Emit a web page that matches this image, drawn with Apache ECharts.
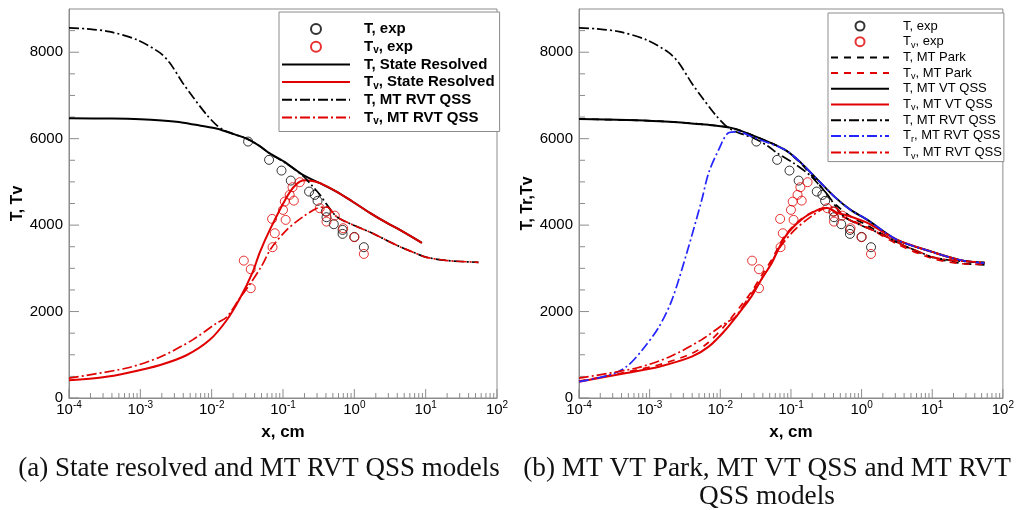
<!DOCTYPE html>
<html>
<head>
<meta charset="utf-8">
<script src="https://cdn.jsdelivr.net/npm/echarts@6/dist/echarts.min.js"></script>
<style>
  html, body { margin: 0; padding: 0; background: #fff; }
  #chart { width: 1017px; height: 510px; }
</style>
</head>
<body>
<div id="chart"></div>
<script>
// ---- axis ticks ----
const xDecades = [1e-4, 1e-3, 1e-2, 1e-1, 1, 10, 100];
const yMajor = [0, 2000, 4000, 6000, 8000];
const yMinor = [500, 1000, 1500, 2500, 3000, 3500, 4500, 5000, 5500, 6500, 7000, 7500, 8500];
const xMinor = [];
for (let d = -4; d < 2; d++) for (let k = 2; k <= 9; k++) xMinor.push(k * Math.pow(10, d));

// ---- experiment (x in cm, temperature in K) ----
const T_exp = [[0.0324,5933],[0.0638,5510],[0.0953,5262],[0.1286,5030],[0.232,4776],[0.279,4699],[0.305,4561],
  [0.398,4313],[0.407,4183],[0.515,4021],[0.684,3889],[0.684,3797],[1.0,3727],[1.36,3489]];
const Tv_exp = [[0.172,4993],[0.136,4877],[0.124,4700],[0.142,4567],[0.106,4544],[0.100,4352],[0.0703,4144],
  [0.109,4121],[0.0767,3812],[0.0713,3489],[0.0282,3178],[0.0353,2979],[0.0353,2540],[0.328,4391],[0.407,4313],
  [0.532,4220],[0.407,4081],[0.697,3928],[1.0,3720],[1.36,3333]];

// ---- state resolved model ----
const T_SR = [[1e-4,6470],[4e-4,6465],[1e-3,6450],[2e-3,6420],[4e-3,6370],[7e-3,6300],[0.012,6230],[0.02,6110],
  [0.031,6000],[0.047,5830],[0.065,5660],[0.11,5440],[0.19,5160],[0.33,4970],[0.57,4770],[0.95,4540],
  [1.65,4285],[2.86,4050],[4.35,3890],[8.85,3590]];
const Tv_SR = [[1e-4,410],[3e-4,480],[6.5e-4,580],[1.9e-3,765],[4.5e-3,995],[9.4e-3,1345],[0.0163,1805],
  [0.0248,2300],[0.0377,2920],[0.0473,3370],[0.0653,3890],[0.113,4650],[0.15,4930],[0.2,5040],[0.26,5020],
  [0.33,4970],[0.57,4770],[0.95,4540],[1.65,4285],[2.86,4050],[4.35,3890],[8.85,3590]];

// ---- MT RVT QSS model ----
const T_RVT = [[1e-4,8565],[1.8e-4,8540],[3.7e-4,8475],[8.9e-4,8290],[1.87e-3,7990],[2.58e-3,7755],[3.93e-3,7290],
  [5.43e-3,6970],[8.54e-3,6550],[0.0118,6310],[0.015,6190],[0.02,6110],[0.031,6000],[0.047,5830],[0.065,5660],
  [0.11,5430],[0.19,5140],[0.25,4930],[0.33,4700],[0.41,4480],[0.57,4190],[1.0,3990],[1.65,3840],[2.9,3640],
  [4.35,3500],[7,3360],[10,3260],[20,3180],[55,3140]];
const Tv_RVT = [[1e-4,460],[6.5e-4,695],[1.9e-3,950],[5.4e-3,1345],[0.0118,1735],[0.0163,1875],[0.0248,2310],
  [0.034,2620],[0.05,3050],[0.068,3460],[0.113,3890],[0.19,4190],[0.30,4390],[0.41,4420],[0.57,4190],
  [1.0,3990],[1.65,3840],[2.9,3640],[4.35,3500],[7,3360],[10,3260],[20,3180],[55,3140]];
const Tr_RVT = [[1e-4,380],[2.7e-4,530],[4.7e-4,725],[7.85e-4,1110],[1.36e-3,1650],[2.07e-3,2270],[3.36e-3,3360],
  [5.46e-3,4580],[6.84e-3,5210],[9.46e-3,5740],[0.0131,6135],[0.0181,6160],[0.0275,6050],[0.0826,5741],
  [0.139,5440],[0.24,5047],[0.416,4653],[0.698,4352],[1.21,4121],[3.19,3658],[10,3380],[25,3190],[55,3120]];

// ---- MT VT QSS model ----
const T_VT = [[1e-4,6455],[1.36e-3,6405],[6.84e-3,6320],[0.01435,6250],[0.0275,6088],[0.0826,5741],[0.139,5440],
  [0.24,5047],[0.416,4653],[0.698,4352],[1.21,4121],[3.19,3658],[10,3380],[25,3190],[55,3120]];
const Tv_VT = [[1e-4,378],[4.7e-4,579],[1.36e-3,725],[3.95e-3,956],[6.84e-3,1188],[0.0118,1574],[0.0199,2037],
  [0.0275,2345],[0.04,2800],[0.0526,3100],[0.0826,3727],[0.139,4121],[0.24,4352],[0.33,4398],[0.456,4283],
  [0.698,4200],[1.21,4050],[3.19,3658],[10,3380],[25,3190],[55,3120]];

// ---- MT Park model ----
const T_Park = [[1e-4,6455],[1.36e-3,6405],[6.84e-3,6320],[0.01435,6250],[0.0275,6088],[0.0826,5741],[0.139,5420],
  [0.24,4980],[0.416,4500],[0.698,4200],[1.21,3990],[3.19,3600],[10,3250],[25,3120],[55,3080]];
const Tv_Park = [[1e-4,390],[4.7e-4,600],[1.36e-3,770],[3.95e-3,1030],[6.84e-3,1290],[0.0118,1690],[0.0199,2150],
  [0.0275,2450],[0.04,2880],[0.0526,3180],[0.0826,3760],[0.139,4140],[0.24,4360],[0.33,4400],[0.456,4250],
  [0.698,4120],[1.21,3950],[3.19,3560],[10,3230],[25,3110],[55,3090]];

const RED = '#e00000', BLACK = '#000000', BLUE = '#2424ff', GRAY = '#8c8c8c';
const SANS = 'Liberation Sans, Arial, sans-serif';
const DASH = [7, 6];
const DASHDOT = [10, 3, 2, 3];

function line(name, data, color, type, width, idx) {
  return {
    name, type: 'line', data, xAxisIndex: idx, yAxisIndex: idx,
    symbol: 'none', smooth: 0.3, z: 3,
    lineStyle: { color, width, type }, itemStyle: { color }
  };
}
function dots(name, data, color, idx) {
  return {
    name, type: 'scatter', data, xAxisIndex: idx, yAxisIndex: idx,
    symbol: 'circle', symbolSize: 9, z: 2,
    itemStyle: { color: 'rgba(0,0,0,0)', borderColor: color, borderWidth: 1 }
  };
}
// short inward tick marks on the bottom (x) or left (y) axis line
function ticks(idx, values, dir, len) {
  return {
    type: 'custom', xAxisIndex: idx, yAxisIndex: idx, silent: true, z: 1, clip: false,
    data: values.map(v => dir === 'x' ? [v, 0] : [1e-4, v]),
    renderItem: (params, api) => {
      const p = api.coord([api.value(0), api.value(1)]);
      const shape = dir === 'x'
        ? { x1: p[0], y1: p[1], x2: p[0], y2: p[1] - len }
        : { x1: p[0], y1: p[1], x2: p[0] + len, y2: p[1] };
      return { type: 'line', shape, style: { stroke: GRAY, lineWidth: 1 } };
    }
  };
}

function xAxis(gridIndex) {
  return {
    gridIndex, type: 'log', logBase: 10, min: 1e-4, max: 100, interval: 1,
    name: 'x, cm', nameLocation: 'middle', nameGap: 15,
    nameTextStyle: { fontFamily: SANS, fontSize: 17, fontWeight: 'bold', color: '#000' },
    axisLine: { show: true, lineStyle: { color: GRAY, width: 1 } },
    axisTick: { show: false },
    axisLabel: {
      margin: 3, color: '#000', showMinLabel: true, showMaxLabel: true,
      formatter: v => '{b|10}{p|' + Math.round(Math.log10(v)) + '}',
      rich: {
        b: { fontFamily: SANS, fontSize: 15, lineHeight: 17, color: '#000' },
        p: { fontFamily: SANS, fontSize: 10, lineHeight: 8, padding: [0, 0, 9, 0], color: '#000' }
      }
    },
    splitLine: { show: false }
  };
}
function yAxis(gridIndex, name, gap) {
  return {
    gridIndex, type: 'value', min: 0, max: 9000, interval: 2000,
    name, nameLocation: 'middle', nameGap: gap,
    nameTextStyle: { fontFamily: SANS, fontSize: 16, fontWeight: 'bold', color: '#000' },
    axisLine: { show: true, lineStyle: { color: GRAY, width: 1 } },
    axisTick: { show: false },
    axisLabel: {
      margin: 6, fontFamily: SANS, fontSize: 15, color: '#000', showMaxLabel: false,
      formatter: v => (yMajor.indexOf(v) >= 0 ? String(v) : '')
    },
    splitLine: { show: false }
  };
}

const subFmt = name => name.replace(/_(\w)/g, '{s|$1}');
const lineItem = name => ({ name, itemStyle: { color: 'rgba(0,0,0,0)', borderWidth: 0, opacity: 0 } });

const option = {
  animation: false,
  backgroundColor: '#fff',
  title: [{
    text: '(a) State resolved and MT RVT QSS models', left: 259, top: 455, textAlign: 'center', padding: 0,
    textStyle: { fontFamily: 'Liberation Serif, serif', fontSize: 27, fontWeight: 'normal', color: '#111' }
  }, {
    text: '(b) MT VT Park, MT VT QSS and MT RVT\nQSS models', left: 767, top: 455, textAlign: 'center', padding: 0,
    textStyle: { fontFamily: 'Liberation Serif, serif', fontSize: 27.3, fontWeight: 'normal', color: '#111', lineHeight: 28 }
  }],
  grid: [
    { left: 69, top: 9, width: 428, height: 389, show: true, borderColor: GRAY, borderWidth: 1, backgroundColor: 'transparent' },
    { left: 579, top: 9, width: 427, height: 389, show: true, borderColor: GRAY, borderWidth: 1, backgroundColor: 'transparent' }
  ],
  xAxis: [xAxis(0), xAxis(1)],
  yAxis: [yAxis(0, 'T, Tv', 32), yAxis(1, 'T, Tr,Tv', 28)],
  legend: [{
    orient: 'vertical', left: 279, top: 12, itemWidth: 68, itemHeight: 10, itemGap: 0.7,
    padding: [9, 5, 5, 2], backgroundColor: '#fff', borderColor: GRAY, borderWidth: 1, borderRadius: 0,
    data: ['T, exp', 'T_v, exp', lineItem('T, State Resolved'), lineItem('T_v, State Resolved'),
      lineItem('T, MT RVT QSS'), lineItem('T_v, MT RVT QSS')],
    formatter: subFmt, selectedMode: false,
    textStyle: {
      fontFamily: SANS, fontSize: 15, fontWeight: 'bold', color: '#000', lineHeight: 16, padding: [0, 0, 0, 9],
      rich: { s: { fontFamily: SANS, fontSize: 10, fontWeight: 'bold', lineHeight: 8, padding: [8, 0, 0, 0], color: '#000' } }
    }
  }, {
    orient: 'vertical', left: 828, top: 13, itemWidth: 58, itemHeight: 9, itemGap: 0.7,
    padding: [6, 2, 1, 2], backgroundColor: '#fff', borderColor: GRAY, borderWidth: 1, borderRadius: 0,
    data: ['T, exp', 'T_v, exp', lineItem('T, MT Park'), lineItem('T_v, MT Park'), lineItem('T, MT VT QSS'),
      lineItem('T_v, MT VT QSS'), lineItem('T, MT RVT QSS'), lineItem('T_r, MT RVT QSS'), lineItem('T_v, MT RVT QSS')],
    formatter: subFmt, selectedMode: false,
    textStyle: {
      fontFamily: SANS, fontSize: 13, color: '#000', lineHeight: 14, padding: [0, 0, 0, 9],
      rich: { s: { fontFamily: SANS, fontSize: 9, lineHeight: 7, padding: [7, 0, 0, 0], color: '#000' } }
    }
  }],
  series: [
    // axis tick marks
    ticks(0, xDecades, 'x', 9), ticks(0, xMinor, 'x', 5), ticks(0, yMajor, 'y', 10), ticks(0, yMinor, 'y', 6),
    ticks(1, xDecades, 'x', 9), ticks(1, xMinor, 'x', 5), ticks(1, yMajor, 'y', 10), ticks(1, yMinor, 'y', 6),
    // left panel
    dots('T, exp', T_exp, BLACK, 0),
    dots('T_v, exp', Tv_exp, RED, 0),
    line('T, State Resolved', T_SR, BLACK, 'solid', 2, 0),
    line('T_v, State Resolved', Tv_SR, RED, 'solid', 2, 0),
    line('T, MT RVT QSS', T_RVT, BLACK, DASHDOT, 1.7, 0),
    line('T_v, MT RVT QSS', Tv_RVT, RED, DASHDOT, 1.7, 0),
    // right panel
    dots('T, exp', T_exp, BLACK, 1),
    dots('T_v, exp', Tv_exp, RED, 1),
    line('T, MT Park', T_Park, BLACK, DASH, 1.7, 1),
    line('T_v, MT Park', Tv_Park, RED, DASH, 1.7, 1),
    line('T, MT VT QSS', T_VT, BLACK, 'solid', 2, 1),
    line('T_v, MT VT QSS', Tv_VT, RED, 'solid', 2, 1),
    line('T, MT RVT QSS', T_RVT, BLACK, DASHDOT, 1.7, 1),
    line('T_r, MT RVT QSS', Tr_RVT, BLUE, DASHDOT, 1.7, 1),
    line('T_v, MT RVT QSS', Tv_RVT, RED, DASHDOT, 1.7, 1)
  ]
};

const chart = echarts.init(document.getElementById('chart'), null, { renderer: 'canvas' });
chart.setOption(option);
</script>
</body>
</html>
